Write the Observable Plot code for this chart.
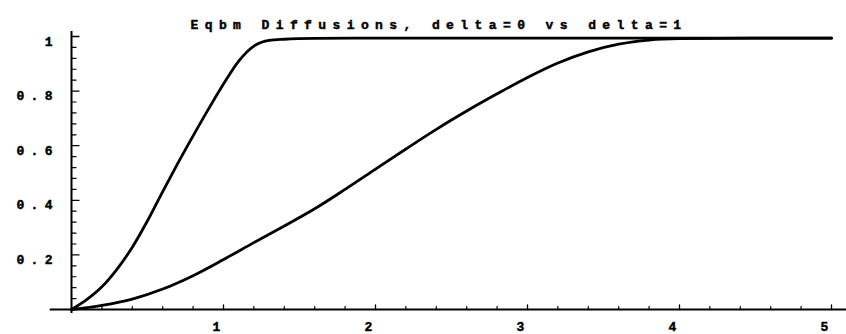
<!DOCTYPE html>
<html>
<head>
<meta charset="utf-8">
<script src="https://cdn.jsdelivr.net/npm/d3@7"></script>
<script src="https://cdn.jsdelivr.net/npm/@observablehq/plot@0.6"></script>
<style>
  html, body { margin: 0; padding: 0; background: white; }
  svg { display: block; }
</style>
</head>
<body>
<div id="chart"></div>
<script>
const titleText = "Eqbm Diffusions, delta=0 vs delta=1";

// series: fast curve (reaches plateau near t≈1.3)
const fastT = [0, 0.1, 0.2, 0.3, 0.4, 0.5, 0.6, 0.7, 0.8, 0.9, 1.0, 1.1, 1.2, 1.25, 1.3, 1.4, 1.6, 2, 3, 4, 5];
const fastV = [0, 0.036, 0.083, 0.148, 0.228, 0.325, 0.432, 0.536, 0.636, 0.733, 0.826, 0.910, 0.965, 0.979, 0.986, 0.990, 0.993, 0.994, 0.994, 0.994, 0.994];

// series: slow curve (reaches plateau near t≈4)
const slowT = [0, 0.2, 0.4, 0.6, 0.8, 1.0, 1.2, 1.4, 1.6, 1.8, 2.0, 2.2, 2.4, 2.6, 2.8, 3.0, 3.2, 3.4, 3.6, 3.8, 4.0, 4.5, 5];
const slowV = [0, 0.015, 0.038, 0.075, 0.124, 0.183, 0.245, 0.306, 0.369, 0.440, 0.514, 0.588, 0.660, 0.727, 0.790, 0.850, 0.903, 0.944, 0.972, 0.987, 0.992, 0.994, 0.994];

// ticks
const xMajor = [1, 2, 3, 4, 5];
const xMajorLabels = ["1", "2", "3", "4", "5"];
const xMinor = [0.2, 0.4, 0.6, 0.8, 1.2, 1.4, 1.6, 1.8, 2.2, 2.4, 2.6, 2.8, 3.2, 3.4, 3.6, 3.8, 4.2, 4.4, 4.6, 4.8];
const yMajor = [0.2, 0.4, 0.6, 0.8, 1];
const yMajorLabels = ["0.2", "0.4", "0.6", "0.8", "1"];
const yMinor = [0.04, 0.08, 0.12, 0.16, 0.24, 0.28, 0.32, 0.36, 0.44, 0.48, 0.52, 0.56, 0.64, 0.68, 0.72, 0.76, 0.84, 0.88, 0.92, 0.96];

const fast = fastT.map((t, i) => ({t, v: fastV[i]}));
const slow = slowT.map((t, i) => ({t, v: slowV[i]}));
const xTicks = xMajor.map((t, i) => ({t, label: xMajorLabels[i]}));
const yTicks = yMajor.map((v, i) => ({v, label: yMajorLabels[i]}));

const tickShape = {draw(context, l) { context.moveTo(0, 0); context.lineTo(0, -l); }};
const textStyle = {fill: "black", stroke: "black", strokeWidth: 0.45};

const chart = Plot.plot({
  width: 846,
  height: 334,
  marginLeft: 71,
  marginRight: 15,
  marginTop: 36,
  marginBottom: 25,
  x: {domain: [0, 5], axis: null},
  y: {domain: [0, 1], axis: null},
  style: {
    fontFamily: "'Liberation Mono', 'DejaVu Sans Mono', monospace",
    fontWeight: "bold",
    fontSize: "13px",
    letterSpacing: "6.4px",
    background: "white",
    color: "black",
    overflow: "visible"
  },
  marks: [
    // axis lines
    Plot.ruleY([0], {x1: -0.14, x2: 5.1, stroke: "black", strokeWidth: 2}),
    Plot.ruleX([0], {y1: -0.015, y2: 1.018, stroke: "black", strokeWidth: 2}),
    // x ticks
    Plot.vector(xMajor, {x: d => d, y: 0, length: 4.5, anchor: "start", shape: tickShape, stroke: "black", strokeWidth: 1.3}),
    Plot.vector(xMinor, {x: d => d, y: 0, length: 3, anchor: "start", shape: tickShape, stroke: "black", strokeWidth: 1.2}),
    // y ticks
    Plot.vector(yMajor, {x: 0, y: d => d, length: 7.5, rotate: 90, anchor: "start", shape: tickShape, stroke: "black", strokeWidth: 1.3}),
    Plot.vector(yMinor, {x: 0, y: d => d, length: 4.5, rotate: 90, anchor: "start", shape: tickShape, stroke: "black", strokeWidth: 1.2}),
    // tick labels
    Plot.text(xTicks, {x: "t", y: 0, text: "label", dy: 17.5, dx: -3.8, ...textStyle}),
    Plot.text(yTicks, {x: 0, y: "v", text: "label", textAnchor: "end", dx: -12.5, dy: 5, ...textStyle}),
    // curves
    Plot.line(fast, {x: "t", y: "v", curve: "monotone-x", stroke: "black", strokeWidth: 2.8}),
    Plot.line(slow, {x: "t", y: "v", curve: "monotone-x", stroke: "black", strokeWidth: 2.8}),
    // title
    Plot.text([titleText], {frameAnchor: "top-left", textAnchor: "start", dx: 119, dy: -17, ...textStyle})
  ]
});

document.getElementById("chart").appendChild(chart);
</script>
</body>
</html>
